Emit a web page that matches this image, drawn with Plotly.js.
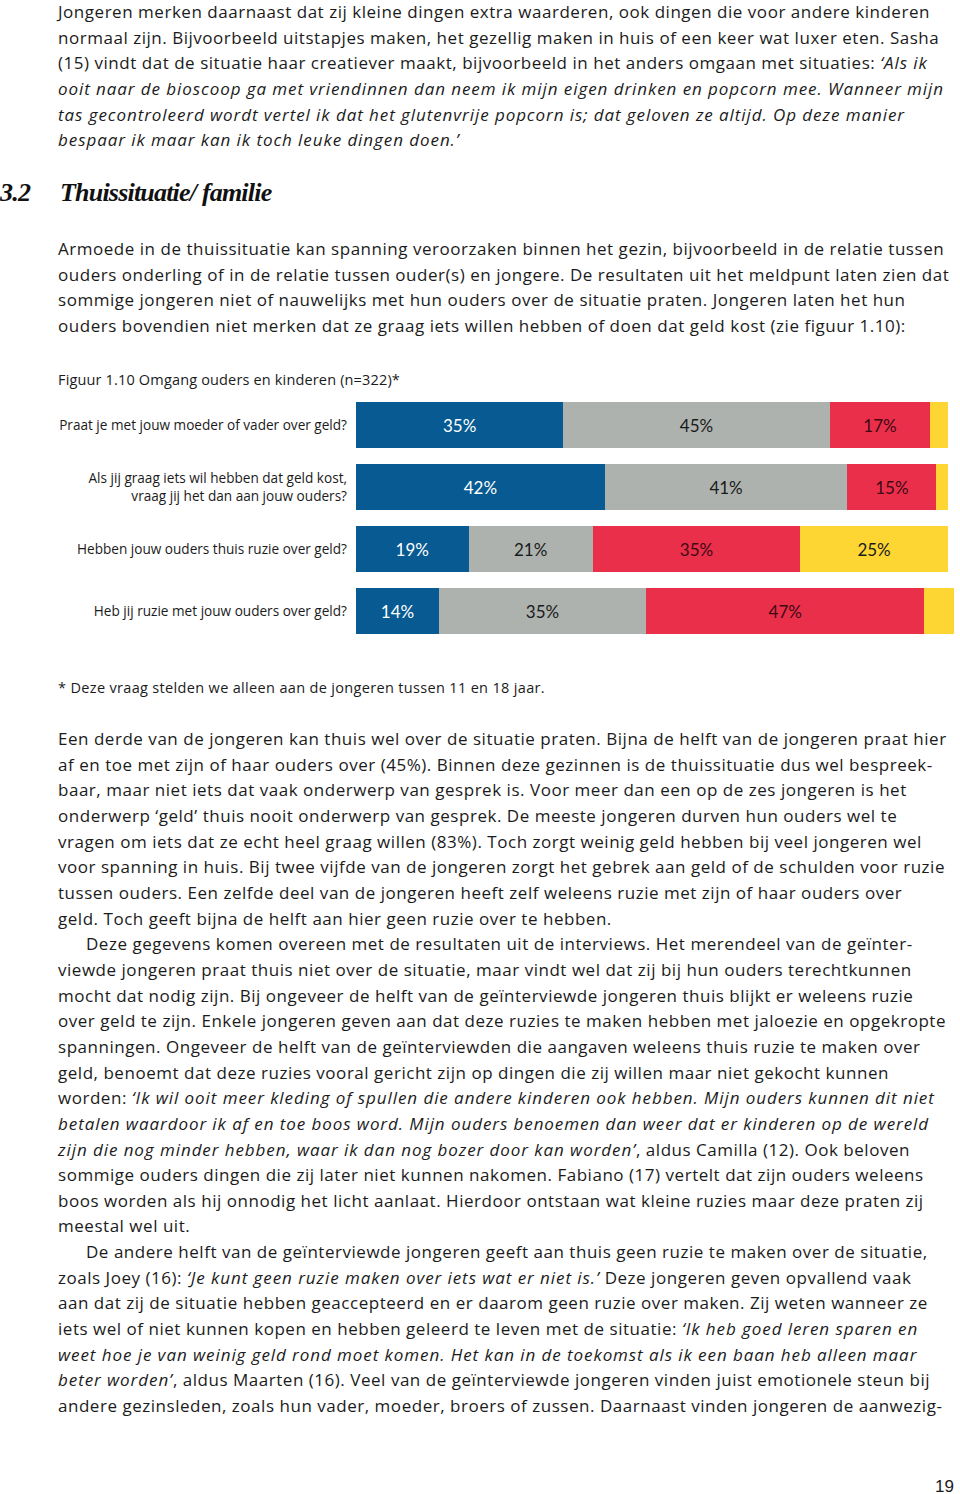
<!DOCTYPE html>
<html>
<head>
<meta charset="utf-8">
<script src="https://cdn.plot.ly/plotly-3.0.1.min.js"></script>
<style>
  html, body { margin: 0; padding: 0; background: #fff; }
  body { width: 960px; height: 1494px; position: relative; overflow: hidden;
         font-family: 'Open Sans', 'Noto Sans', sans-serif; color: #1b1b1b; }
  .block { position: absolute; left: 58px; font-size: 17px; line-height: 25.65px; }
  .block div { white-space: nowrap; width: max-content; }
  .ind { padding-left: 28px; }
  .heading { position: absolute; top: 178px; left: 0; font-family: 'Liberation Serif', serif;
             font-style: italic; font-weight: bold; font-size: 26px; color: #111; white-space: nowrap;
             letter-spacing: -0.8px; }
  .heading .num { position: absolute; left: 0; }
  .heading .txt { position: absolute; left: 60px; }
  .small { position: absolute; left: 58px; font-size: 14.5px; white-space: nowrap; width: max-content; }
  #chart { position: absolute; left: 0; top: 370px; width: 960px; height: 290px; }
  .pnum { position: absolute; left: 935px; top: 1477px; font-family: 'Liberation Sans', Arial, sans-serif; font-size: 17px; }
</style>
</head>
<body>

<div class="block" style="top:-1px">
  <div id="ref1">Jongeren merken daarnaast dat zij kleine dingen extra waarderen, ook dingen die voor andere kinderen</div>
  <div>normaal zijn. Bijvoorbeeld uitstapjes maken, het gezellig maken in huis of een keer wat luxer eten. Sasha</div>
  <div>(15) vindt dat de situatie haar creatiever maakt, bijvoorbeeld in het anders omgaan met situaties: <i>‘Als ik</i></div>
  <div><i id="ref2">ooit naar de bioscoop ga met vriendinnen dan neem ik mijn eigen drinken en popcorn mee. Wanneer mijn</i></div>
  <div><i>tas gecontroleerd wordt vertel ik dat het glutenvrije popcorn is; dat geloven ze altijd. Op deze manier</i></div>
  <div><i>bespaar ik maar kan ik toch leuke dingen doen.’</i></div>
</div>

<div class="heading"><span class="num">3.2</span><span class="txt">Thuissituatie/ familie</span></div>

<div class="block" style="top:236px">
  <div>Armoede in de thuissituatie kan spanning veroorzaken binnen het gezin, bijvoorbeeld in de relatie tussen</div>
  <div>ouders onderling of in de relatie tussen ouder(s) en jongere. De resultaten uit het meldpunt laten zien dat</div>
  <div>sommige jongeren niet of nauwelijks met hun ouders over de situatie praten. Jongeren laten het hun</div>
  <div>ouders bovendien niet merken dat ze graag iets willen hebben of doen dat geld kost (zie figuur 1.10):</div>
</div>

<div class="small" id="figtitle" style="top:370px">Figuur 1.10 Omgang ouders en kinderen (n=322)*</div>

<div id="chart"></div>

<div class="small" id="footnote" style="top:678px">* Deze vraag stelden we alleen aan de jongeren tussen 11 en 18 jaar.</div>

<div class="block" style="top:726px">
  <div>Een derde van de jongeren kan thuis wel over de situatie praten. Bijna de helft van de jongeren praat hier</div>
  <div>af en toe met zijn of haar ouders over (45%). Binnen deze gezinnen is de thuissituatie dus wel bespreek-</div>
  <div>baar, maar niet iets dat vaak onderwerp van gesprek is. Voor meer dan een op de zes jongeren is het</div>
  <div>onderwerp ‘geld’ thuis nooit onderwerp van gesprek. De meeste jongeren durven hun ouders wel te</div>
  <div>vragen om iets dat ze echt heel graag willen (83%). Toch zorgt weinig geld hebben bij veel jongeren wel</div>
  <div>voor spanning in huis. Bij twee vijfde van de jongeren zorgt het gebrek aan geld of de schulden voor ruzie</div>
  <div>tussen ouders. Een zelfde deel van de jongeren heeft zelf weleens ruzie met zijn of haar ouders over</div>
  <div>geld. Toch geeft bijna de helft aan hier geen ruzie over te hebben.</div>
  <div class="ind">Deze gegevens komen overeen met de resultaten uit de interviews. Het merendeel van de geïnter-</div>
  <div>viewde jongeren praat thuis niet over de situatie, maar vindt wel dat zij bij hun ouders terechtkunnen</div>
  <div>mocht dat nodig zijn. Bij ongeveer de helft van de geïnterviewde jongeren thuis blijkt er weleens ruzie</div>
  <div>over geld te zijn. Enkele jongeren geven aan dat deze ruzies te maken hebben met jaloezie en opgekropte</div>
  <div>spanningen. Ongeveer de helft van de geïnterviewden die aangaven weleens thuis ruzie te maken over</div>
  <div>geld, benoemt dat deze ruzies vooral gericht zijn op dingen die zij willen maar niet gekocht kunnen</div>
  <div>worden: <i>‘Ik wil ooit meer kleding of spullen die andere kinderen ook hebben. Mijn ouders kunnen dit niet</i></div>
  <div><i>betalen waardoor ik af en toe boos word. Mijn ouders benoemen dan weer dat er kinderen op de wereld</i></div>
  <div><i>zijn die nog minder hebben, waar ik dan nog bozer door kan worden’</i>, aldus Camilla (12). Ook beloven</div>
  <div>sommige ouders dingen die zij later niet kunnen nakomen. Fabiano (17) vertelt dat zijn ouders weleens</div>
  <div>boos worden als hij onnodig het licht aanlaat. Hierdoor ontstaan wat kleine ruzies maar deze praten zij</div>
  <div>meestal wel uit.</div>
  <div class="ind">De andere helft van de geïnterviewde jongeren geeft aan thuis geen ruzie te maken over de situatie,</div>
  <div>zoals Joey (16): <i>‘Je kunt geen ruzie maken over iets wat er niet is.’</i> Deze jongeren geven opvallend vaak</div>
  <div>aan dat zij de situatie hebben geaccepteerd en er daarom geen ruzie over maken. Zij weten wanneer ze</div>
  <div>iets wel of niet kunnen kopen en hebben geleerd te leven met de situatie: <i>‘Ik heb goed leren sparen en</i></div>
  <div><i>weet hoe je van weinig geld rond moet komen. Het kan in de toekomst als ik een baan heb alleen maar</i></div>
  <div><i>beter worden’</i>, aldus Maarten (16). Veel van de geïnterviewde jongeren vinden juist emotionele steun bij</div>
  <div>andere gezinsleden, zoals hun vader, moeder, broers of zussen. Daarnaast vinden jongeren de aanwezig-</div>
</div>

<div class="pnum">19</div>

<script>
// ---- data ----
const categories = [
  'Praat je met jouw moeder of vader over geld?',
  'Als jij graag iets wil hebben dat geld kost,<br>vraag jij het dan aan jouw ouders?',
  'Hebben jouw ouders thuis ruzie over geld?',
  'Heb jij ruzie met jouw ouders over geld?'
];
const blueValues   = [35, 42, 19, 14];
const grayValues   = [45, 41, 21, 35];
const redValues    = [17, 15, 35, 47];
const yellowValues = [3, 2, 25, 5];

// ---- fit text spacing to the page measure ----
function spacingFor(el, targetWidth) {
  const w = el.getBoundingClientRect().width;
  return (targetWidth - w) / el.textContent.length;
}
const blocks = Array.from(document.querySelectorAll('.block'));
const lsRoman = spacingFor(document.getElementById('ref1'), 872);
blocks.forEach(b => b.style.letterSpacing = lsRoman.toFixed(3) + 'px');
const ref2 = document.getElementById('ref2');
const lsItalic = lsRoman + spacingFor(ref2, 886);
document.querySelectorAll('.block i').forEach(i => i.style.letterSpacing = lsItalic.toFixed(3) + 'px');
['figtitle', 'footnote'].forEach((id, k) => {
  const el = document.getElementById(id);
  el.style.letterSpacing = spacingFor(el, [342, 487][k]).toFixed(3) + 'px';
});

// ---- chart ----
const labelFont = '"Open Sans", "Noto Sans", sans-serif';
const barFont = 'Lato, "Noto Sans", sans-serif';
function seg(values, color, textColor, showMin) {
  return {
    type: 'bar', orientation: 'h',
    y: categories, x: values,
    marker: { color: color, line: { width: 0 } },
    text: values.map(v => v >= showMin ? v + '%' : ''),
    texttemplate: '%{text}',
    textposition: 'inside', insidetextanchor: 'middle',
    textangle: 0,
    insidetextfont: { family: barFont, size: 17, color: textColor },
    hoverinfo: 'skip', cliponaxis: false
  };
}
const data = [
  seg(blueValues,   '#075a92', '#ffffff', 8),
  seg(grayValues,   '#adb2ae', '#1a1a1a', 8),
  seg(redValues,    '#ea2f4b', '#3d0a14', 8),
  seg(yellowValues, '#fdd634', '#1a1a1a', 8)
];
const layout = {
  barmode: 'stack',
  bargap: 0.274,
  width: 960, height: 290,
  margin: { l: 356, r: 6, t: 24, b: 18, pad: 0 },
  paper_bgcolor: 'rgba(0,0,0,0)', plot_bgcolor: 'rgba(0,0,0,0)',
  showlegend: false,
  xaxis: { range: [0, 101], visible: false, fixedrange: true },
  yaxis: {
    autorange: 'reversed', showgrid: false, zeroline: false, showline: false,
    ticks: '', ticklabelstandoff: 8,
    tickfont: { family: labelFont, size: 13.6, color: '#1b1b1b' }
  },
  font: { family: labelFont }
};
Plotly.newPlot('chart', data, layout, { staticPlot: true, displayModeBar: false });
</script>
</body>
</html>
